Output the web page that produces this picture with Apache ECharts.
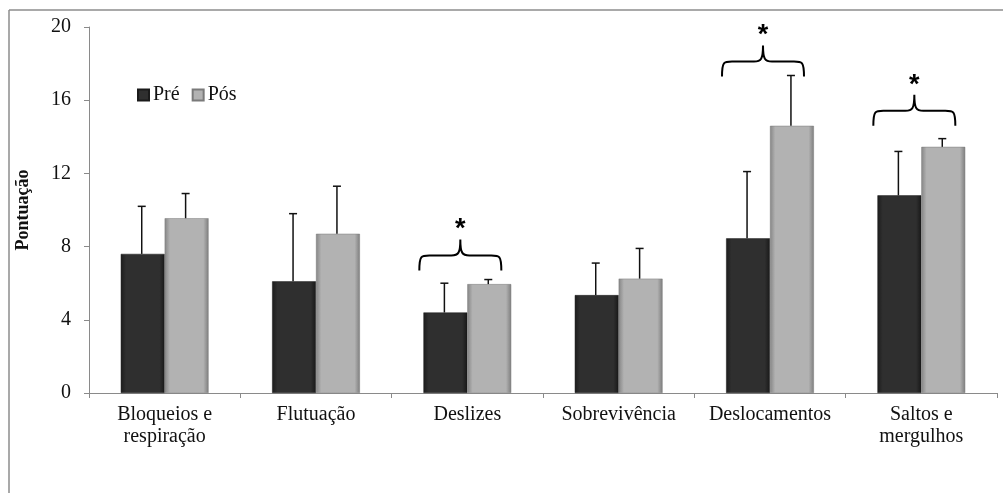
<!DOCTYPE html>
<html>
<head>
<meta charset="utf-8">
<script src="https://cdn.jsdelivr.net/npm/echarts@6/dist/echarts.min.js"></script>
<style>html,body{margin:0;padding:0;background:#fff;}#c{width:1003px;height:493px;}</style>
</head>
<body>
<div id="c"></div>
<script>
const categories = ['Bloqueios e\nrespiração','Flutuação','Deslizes','Sobrevivência','Deslocamentos','Saltos e\nmergulhos'];
const preValues = [7.6, 6.1, 4.4, 5.35, 8.45, 10.8];
const posValues = [9.55, 8.7, 5.95, 6.25, 14.6, 13.45];
const preSD = [2.6, 3.7, 1.6, 1.75, 3.65, 2.4];
const posSD = [1.35, 2.6, 0.25, 1.65, 2.75, 0.45];
const braceCategories = [2, 4, 5];
const braceBase = [6.7, 17.3, 14.6];
const yTicks = [0, 4, 8, 12, 16, 20];

const FONT = '"Liberation Serif", "Times New Roman", serif';
const chart = echarts.init(document.getElementById('c'));

const BAR_FRAC = 0.29;

function errorRender(side) {
  return function (params, api) {
    const idx = api.value(0);
    const top = api.value(1);
    const mean = api.value(2);
    const catW = api.size([1, 0])[0];
    const c0 = api.coord([idx, mean]);
    const c1 = api.coord([idx, top]);
    const x = c0[0] + side * catW * BAR_FRAC / 2 - 1;
    const style = { stroke: '#111', lineWidth: 1.5 };
    return {
      type: 'group',
      children: [
        { type: 'line', shape: { x1: x, y1: c0[1], x2: x, y2: c1[1] }, style },
        { type: 'line', shape: { x1: x - 4, y1: c1[1], x2: x + 4, y2: c1[1] }, style }
      ]
    };
  };
}

function braceRender(params, api) {
  const idx = api.value(0);
  const base = api.value(1);
  const p = api.coord([idx, base]);
  const cx = p[0] - 7;
  const hw = 41;
  const yb = p[1];
  const ym = yb - 15;
  const yt = yb - 31;
  const x0 = cx - hw, x1 = cx + hw;
  const path = `M${x0},${yb} C${x0},${ym} ${x0 + 2},${ym} ${x0 + 10},${ym} L${cx - 9},${ym} C${cx - 2},${ym} ${cx},${ym - 2} ${cx},${yt} C${cx},${ym - 2} ${cx + 2},${ym} ${cx + 9},${ym} L${x1 - 10},${ym} C${x1 - 2},${ym} ${x1},${ym} ${x1},${yb}`;
  return {
    type: 'group',
    children: [
      { type: 'path', shape: { pathData: path }, style: { stroke: '#000', lineWidth: 2, fill: null } },
      { type: 'text', x: cx, y: yt + 4, style: { text: '*', font: 'bold 27px "Liberation Sans", Arial, sans-serif', fill: '#000', align: 'center', verticalAlign: 'bottom' } }
    ]
  };
}

const preGrad = new echarts.graphic.LinearGradient(0, 0, 1, 0, [
  { offset: 0, color: '#1c1c1c' }, { offset: 0.12, color: '#2f2f2f' },
  { offset: 0.88, color: '#2f2f2f' }, { offset: 1, color: '#181818' }
]);
const posGrad = new echarts.graphic.LinearGradient(0, 0, 1, 0, [
  { offset: 0, color: '#858585' }, { offset: 0.12, color: '#b2b2b2' },
  { offset: 0.88, color: '#b2b2b2' }, { offset: 1, color: '#7e7e7e' }
]);

chart.setOption({
  animation: false,
  textStyle: { fontFamily: FONT },
  graphic: [
    { type: 'line', shape: { x1: 9, y1: 10, x2: 1003, y2: 10 }, style: { stroke: '#8c8c8c', lineWidth: 1.5 } },
    { type: 'line', shape: { x1: 9, y1: 10, x2: 9, y2: 493 }, style: { stroke: '#8c8c8c', lineWidth: 1.5 } }
  ],
  legend: {
    left: 132, top: 80,
    itemWidth: 11, itemHeight: 11, itemGap: 12,
    icon: 'rect',
    textStyle: { fontFamily: FONT, fontSize: 20, color: '#111', padding: [0, 0, 0, -1] },
    data: ['Pré', 'Pós']
  },
  grid: { left: 89, right: 6, top: 27, bottom: 100, containLabel: false },
  xAxis: {
    type: 'category',
    data: categories,
    axisLine: { lineStyle: { color: '#8a8a8a', width: 1 } },
    axisTick: { show: true, length: 5, lineStyle: { color: '#8a8a8a' } },
    axisLabel: { fontFamily: FONT, fontSize: 20, color: '#111', margin: 11, lineHeight: 22, interval: 0 }
  },
  yAxis: {
    type: 'value', min: 0, max: 20, interval: 4,
    name: 'Pontuação', nameLocation: 'middle', nameGap: 57,
    nameTextStyle: { fontFamily: FONT, fontSize: 18, fontWeight: 'bold', color: '#111' },
    axisLine: { show: true, lineStyle: { color: '#8a8a8a', width: 1 } },
    axisTick: { show: true, length: 5, lineStyle: { color: '#8a8a8a' } },
    splitLine: { show: false },
    axisLabel: { fontFamily: FONT, fontSize: 20, color: '#111', margin: 18,
      formatter: v => yTicks.includes(v) ? String(v) : '' }
  },
  series: [
    { name: 'Pré', type: 'bar', data: preValues, barWidth: (BAR_FRAC * 100) + '%', barGap: '0%',
      itemStyle: { color: preGrad, borderColor: '#1a1a1a', borderWidth: 0.5 } },
    { name: 'Pós', type: 'bar', data: posValues, barWidth: (BAR_FRAC * 100) + '%', barGap: '0%',
      itemStyle: { color: posGrad, borderColor: '#7a7a7a', borderWidth: 0.5 } },
    { name: 'errPre', type: 'custom', renderItem: errorRender(-1), z: 5,
      data: preValues.map((v, i) => [i, v + preSD[i], v]) },
    { name: 'errPos', type: 'custom', renderItem: errorRender(1), z: 5,
      data: posValues.map((v, i) => [i, v + posSD[i], v]) },
    { name: 'braces', type: 'custom', renderItem: braceRender, z: 6,
      data: braceCategories.map((c, i) => [c, braceBase[i]]) }
  ]
});
</script>
</body>
</html>
